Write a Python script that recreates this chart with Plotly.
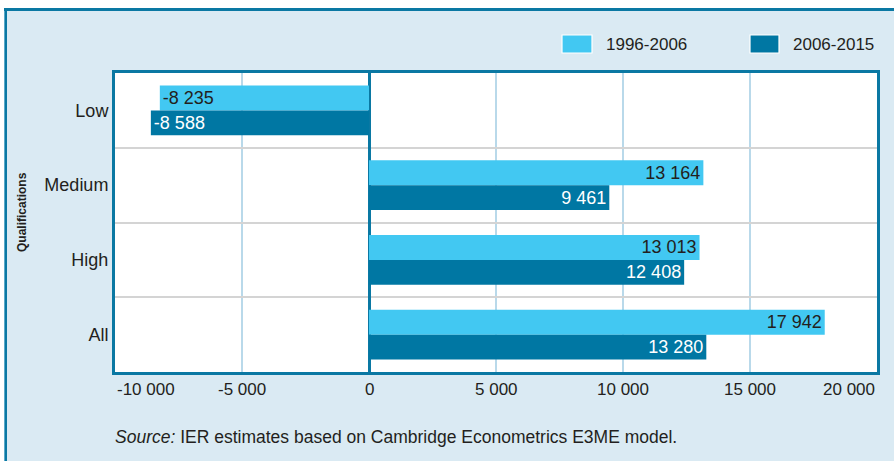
import plotly.graph_objects as go

categories = ["Low", "Medium", "High", "All"]
series_names = ["1996-2006", "2006-2015"]
values_1996_2006 = [-8235, 13164, 13013, 17942]
values_2006_2015 = [-8588, 9461, 12408, 13280]
x_tick_values = [-10000, -5000, 0, 5000, 10000, 15000, 20000]
x_tick_labels = ["-10 000", "-5 000", "0", "5 000", "10 000", "15 000", "20 000"]
y_title = "Qualifications"
source_text = "<i>Source:</i> IER estimates based on Cambridge Econometrics E3ME model."

FONT = "Liberation Sans, Arial, Helvetica, sans-serif"
LIGHT = "#42c8f2"
DARK = "#0077a3"
FRAME = "#0a78a3"
BG = "#daeaf3"
TXT = "#231f20"

W, H = 894, 461
L, R, T, B = 115, 877, 73, 372


def fx(p):
    return (p - L) / (R - L)


def fy(p):
    return (B - p) / (B - T)


def fmt(v):
    return f"{v:,}".replace(",", " ")


fig = go.Figure()
fig.add_trace(go.Bar(
    y=categories, x=values_1996_2006, orientation="h", name=series_names[0],
    marker=dict(color=LIGHT, line=dict(width=0)),
    text=[fmt(v) for v in values_1996_2006], textposition="inside",
    insidetextanchor="end", constraintext="none",
    textfont=dict(family=FONT, size=18, color=TXT), showlegend=False,
))
fig.add_trace(go.Bar(
    y=categories, x=values_2006_2015, orientation="h", name=series_names[1],
    marker=dict(color=DARK, line=dict(width=0)),
    text=[fmt(v) for v in values_2006_2015], textposition="inside",
    insidetextanchor="end", constraintext="none",
    textfont=dict(family=FONT, size=18, color="white"), showlegend=False,
))

shapes = []
# white outside strips and outer frame lines
shapes.append(dict(type="rect", xref="paper", yref="paper", x0=fx(-5), x1=fx(W + 5),
                   y0=fy(-5), y1=fy(8), fillcolor="white", line=dict(width=0), layer="below"))
shapes.append(dict(type="rect", xref="paper", yref="paper", x0=fx(-5), x1=fx(4),
                   y0=fy(-5), y1=fy(H + 5), fillcolor="white", line=dict(width=0), layer="below"))
shapes.append(dict(type="rect", xref="paper", yref="paper", x0=fx(4), x1=fx(W + 5),
                   y0=fy(8), y1=fy(11), fillcolor=FRAME, line=dict(width=0), layer="below"))
shapes.append(dict(type="rect", xref="paper", yref="paper", x0=fx(4), x1=fx(7),
                   y0=fy(8), y1=fy(H + 5), fillcolor=FRAME, line=dict(width=0), layer="below"))
shapes.append(dict(type="rect", xref="paper", yref="paper", x0=fx(4), x1=fx(5),
                   y0=fy(11), y1=fy(H + 5), fillcolor="#5aa9c8", line=dict(width=0), layer="below"))

annotations = []
# legend (manual)
legend_items = [(series_names[0], LIGHT, 562, 592, 604), (series_names[1], DARK, 750, 779, 791)]
for name, col, s0, s1, tx in legend_items:
    shapes.append(dict(type="rect", xref="paper", yref="paper", x0=fx(s0), x1=fx(s1),
                       y0=fy(53), y1=fy(35), fillcolor=col, line=dict(color="white", width=1.2)))
    annotations.append(dict(xref="paper", yref="paper", x=fx(tx), y=fy(44), text=name,
                            showarrow=False, xanchor="left", yanchor="middle",
                            font=dict(family=FONT, size=17, color=TXT)))

# x tick labels
for i, (v, lab) in enumerate(zip(x_tick_values, x_tick_labels)):
    anchor = "center"
    if i == 0:
        anchor = "left"
    elif i == len(x_tick_values) - 1:
        anchor = "right"
    annotations.append(dict(xref="x", yref="paper", x=v, y=fy(389), text=lab,
                            showarrow=False, xanchor=anchor, yanchor="middle",
                            font=dict(family=FONT, size=17, color=TXT)))

annotations.append(dict(xref="paper", yref="paper", x=fx(22), y=fy(212), text="<b>" + y_title + "</b>",
                        textangle=-90, showarrow=False, xanchor="center", yanchor="middle",
                        font=dict(family=FONT, size=12, color=TXT)))
annotations.append(dict(xref="paper", yref="paper", x=fx(113), y=fy(437), text=source_text,
                        showarrow=False, xanchor="left", yanchor="middle",
                        font=dict(family=FONT, size=17.5, color=TXT)))

fig.update_layout(
    width=W, height=H,
    margin=dict(l=L, r=W - R, t=T, b=H - B, pad=0),
    paper_bgcolor=BG, plot_bgcolor="white",
    barmode="group", bargap=1 / 3, bargroupgap=0,
    shapes=shapes, annotations=annotations,
    showlegend=False,
    font=dict(family=FONT, size=17, color=TXT),
)
fig.update_xaxes(
    range=[-10000, 20000], tickvals=x_tick_values, showticklabels=False,
    showgrid=True, gridcolor="#b9d9ea", gridwidth=1.5,
    zeroline=True, zerolinecolor=FRAME, zerolinewidth=2.5,
    showline=True, linecolor=FRAME, linewidth=3, mirror=True, ticks="",
)
fig.update_yaxes(
    categoryorder="array", categoryarray=categories, autorange="reversed",
    tickson="boundaries", showgrid=True, gridcolor="#d4d4d4", gridwidth=1.5,
    showline=True, linecolor=FRAME, linewidth=3, mirror=True,
    ticks="outside", ticklen=5, tickcolor="rgba(0,0,0,0)",
    tickfont=dict(family=FONT, size=18, color=TXT),
)

fig.write_html("out.html", config={"displayModeBar": False},
               post_script="document.body.style.margin='0';document.body.style.padding='0';")
